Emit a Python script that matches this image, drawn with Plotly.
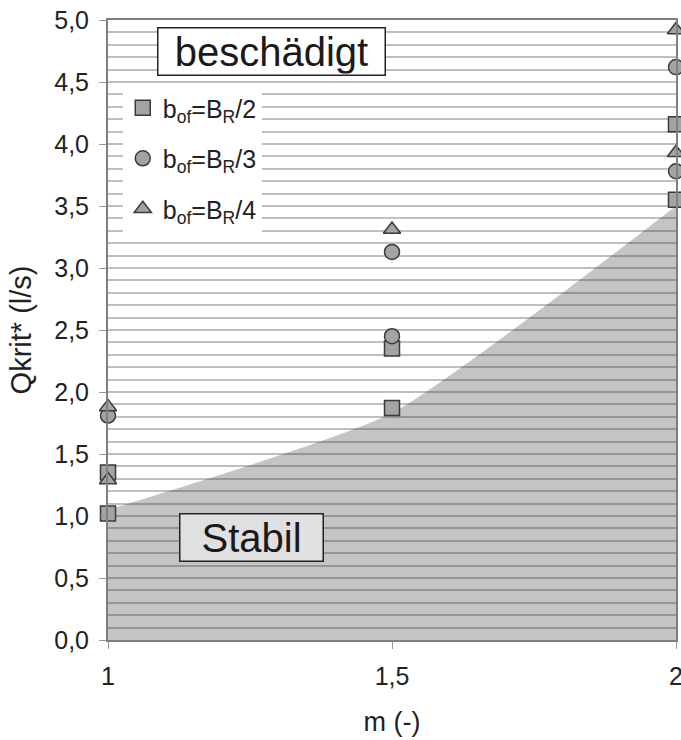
import plotly.graph_objects as go

# m values and Qkrit* readings per series
m_half = [1, 1, 1.5, 1.5, 2, 2]
q_half = [1.35, 1.02, 2.35, 1.87, 4.16, 3.55]

m_third = [1, 1.5, 1.5, 2, 2]
q_third = [1.81, 3.13, 2.45, 4.62, 3.78]

m_quarter = [1, 1, 1.5, 2, 2]
q_quarter = [1.88, 1.29, 3.31, 4.92, 3.93]

# stability boundary (grey area)
m_bound = [1, 1.5, 2]
q_bound = [1.05, 1.83, 3.5]

names = ["b<sub>of</sub>=B<sub>R</sub>/2", "b<sub>of</sub>=B<sub>R</sub>/3", "b<sub>of</sub>=B<sub>R</sub>/4"]
symbols = ["square", "circle", "triangle-up"]

FONT = "Liberation Sans, Arial, sans-serif"

fig = go.Figure()

fig.add_trace(go.Scatter(
    x=m_bound, y=q_bound, mode="lines", line=dict(width=0, shape="spline", smoothing=0.5),
    fill="tozeroy", fillcolor="rgba(37,37,37,0.27)", showlegend=False, hoverinfo="skip"))

series = [(m_half, q_half), (m_third, q_third), (m_quarter, q_quarter)]
for (xs, ys), name, sym in zip(series, names, symbols):
    fig.add_trace(go.Scatter(
        x=xs, y=ys, mode="markers", name=name, legendgroup=name, cliponaxis=False,
        marker=dict(symbol=sym, size=15, color="#a3a3a3", line=dict(color="#3a3a3a", width=1.5))))

fig.add_annotation(x=1.287, y=4.75, xref="x", yref="y", text="beschädigt", showarrow=False,
                   font=dict(size=40, color="#1a1a1a", family=FONT), bgcolor="white",
                   bordercolor="#222", borderwidth=1.5, borderpad=1, width=224, height=44)
fig.add_annotation(x=1.253, y=0.83, xref="x", yref="y", text="Stabil", showarrow=False,
                   font=dict(size=40, color="#1a1a1a", family=FONT), bgcolor="#e0e0e0",
                   bordercolor="#222", borderwidth=1.5, borderpad=1, width=140, height=44)

fig.update_layout(
    width=681, height=740, autosize=False,
    margin=dict(l=108, r=5, t=20, b=100),
    paper_bgcolor="white", plot_bgcolor="white",
    separators=", ",
    font=dict(family=FONT, size=25, color="#222"),
    legend=dict(x=0.026, y=0.895, xanchor="left", yanchor="top", bgcolor="white",
                font=dict(size=25, family=FONT), tracegroupgap=15, itemwidth=30),
)

fig.update_xaxes(
    range=[1, 2], tickvals=[1, 1.5, 2], ticktext=["1", "1,5", "2"],
    ticks="outside", ticklen=7, tickcolor="#999", showgrid=False,
    showline=True, linecolor="#808080", linewidth=2, mirror=True,
    ticklabelstandoff=6, automargin=False, ticklabeloverflow="allow",
    title=dict(text="m (-)", font=dict(size=27), standoff=23),
    tickfont=dict(size=25), zeroline=False)

fig.update_yaxes(
    range=[0, 5], dtick=0.5, tickformat=".1f",
    ticks="outside", ticklen=7, tickcolor="#999",
    showgrid=True, gridcolor="#bfbfbf", gridwidth=1.5,
    minor=dict(dtick=0.1, showgrid=True, gridcolor="#bfbfbf", gridwidth=1.5),
    showline=True, linecolor="#808080", linewidth=2, mirror=True,
    ticklabelstandoff=5, automargin=False,
    title=dict(text="Qkrit* (l/s)", font=dict(size=29), standoff=14),
    tickfont=dict(size=25), zeroline=False)

fig.write_html("out.html", config={"displayModeBar": False},
               post_script="document.body.style.margin='0';document.body.style.overflow='hidden';")
